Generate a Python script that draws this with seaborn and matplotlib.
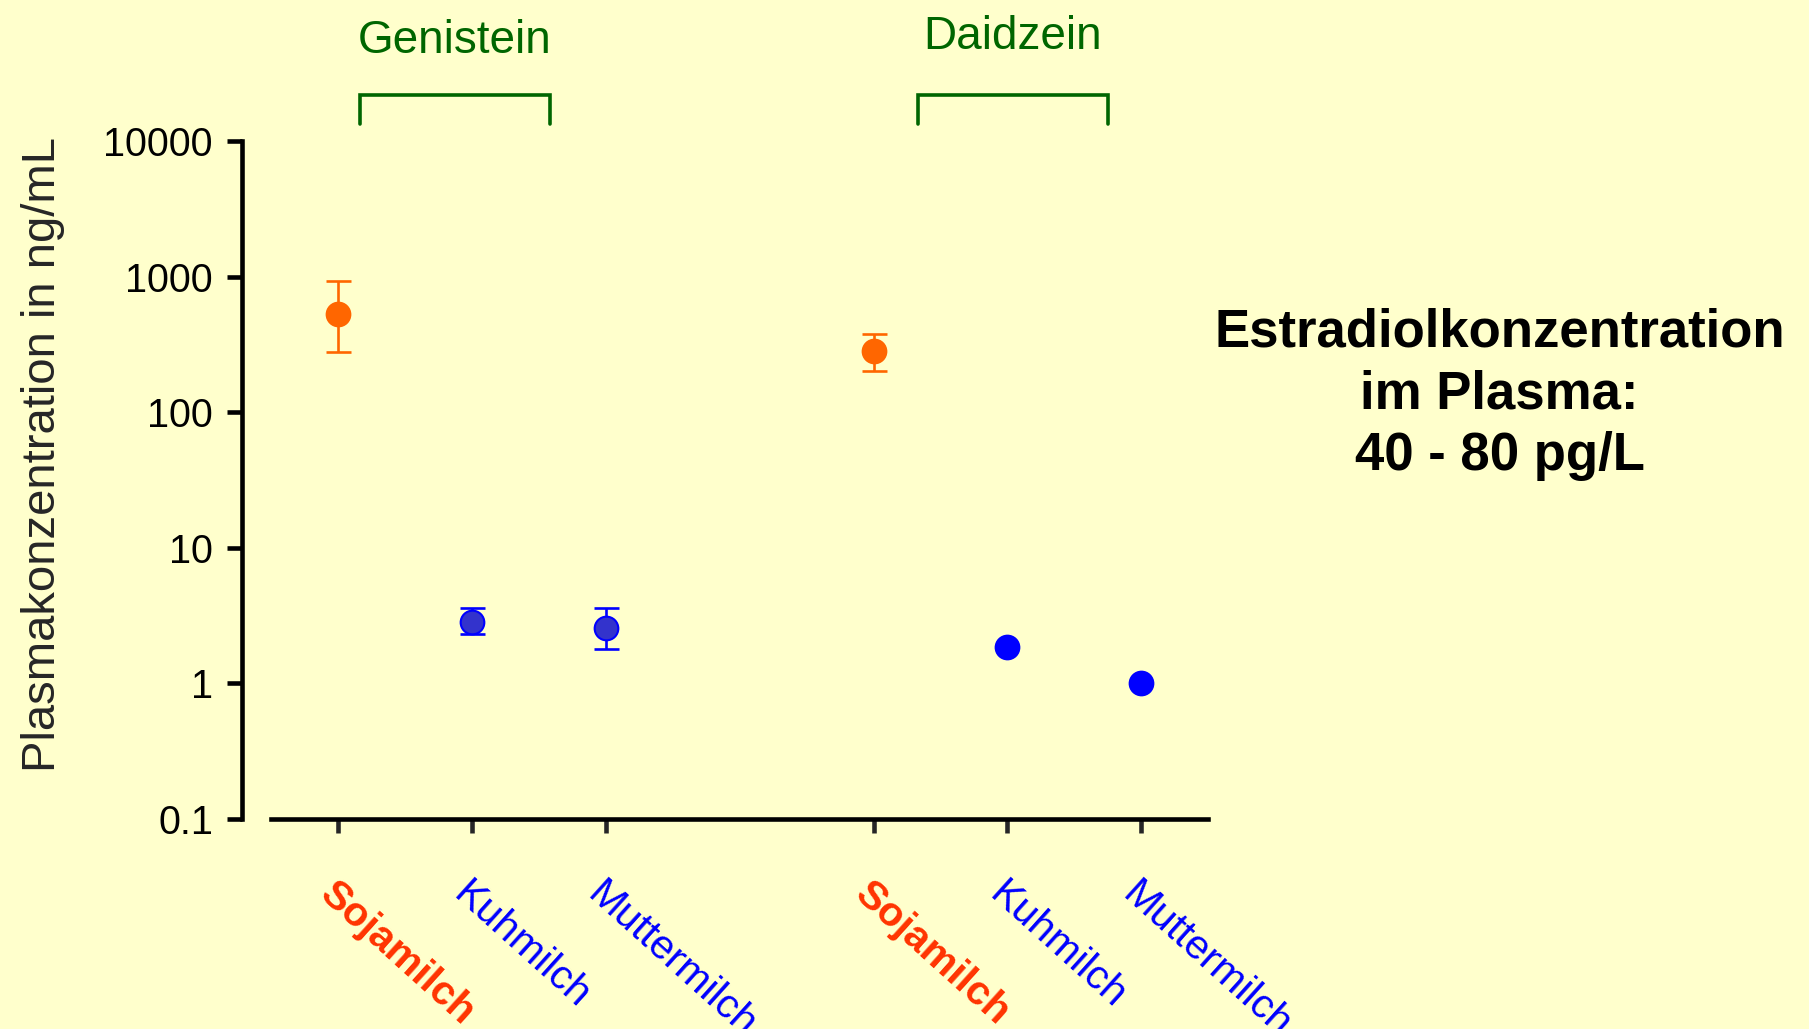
import matplotlib
matplotlib.use('Agg')
import matplotlib.pyplot as plt
import matplotlib.transforms as mtransforms
import seaborn as sns
import pandas as pd
import numpy as np

# data (ng/mL, log scale)
compounds = ['Genistein', 'Daidzein']
milks = ['Sojamilch', 'Kuhmilch', 'Muttermilch']
genistein_mean = [530, 2.85, 2.55]
genistein_low = [280, 2.3, 1.8]
genistein_high = [930, 3.6, 3.6]
daidzein_mean = [285, 1.85, 1.0]
daidzein_low = [200, np.nan, np.nan]
daidzein_high = [380, np.nan, np.nan]
y_ticks = [0.1, 1, 10, 100, 1000, 10000]
y_ticklabels = ['0.1', '1', '10', '100', '1000', '10000']
note_lines = ['Estradiolkonzentration', 'im Plasma:', '40 - 80 pg/L']

bg = '#FFFFCC'
green = '#006600'

sns.set_theme(style='ticks', rc={'figure.facecolor': bg, 'axes.facecolor': bg})
plt.rcParams['font.family'] = ['Liberation Sans', 'DejaVu Sans']

rows = []
for ci, (comp, mean, low, high) in enumerate(zip(
        compounds,
        [genistein_mean, daidzein_mean],
        [genistein_low, daidzein_low],
        [genistein_high, daidzein_high])):
    for mi, milk in enumerate(milks):
        if milk == 'Sojamilch':
            kind = 'soja'
        elif comp == 'Genistein':
            kind = 'gen'
        else:
            kind = 'dai'
        rows.append({'compound': comp, 'milk': milk, 'pos': ci * 4 + mi,
                     'mean': mean[mi], 'low': low[mi], 'high': high[mi], 'kind': kind})
df = pd.DataFrame(rows)

fill = {'soja': '#FF6600', 'gen': '#3333CC', 'dai': '#0000FF'}
edge = {'soja': '#FF6600', 'gen': '#0000FF', 'dai': '#0000FF'}
bar_col = {'soja': '#FF6600', 'gen': '#0000FF', 'dai': '#0000FF'}

fig = plt.figure(figsize=(18.09, 10.29), dpi=100)
ax = fig.add_axes([0.1338, 0.204, 0.534, 0.659])

# error bars
for _, r in df.dropna(subset=['low']).iterrows():
    ax.errorbar(r['pos'], r['mean'], yerr=[[r['mean'] - r['low']], [r['high'] - r['mean']]],
                fmt='none', ecolor=bar_col[r['kind']], elinewidth=1.9,
                capsize=9, capthick=1.9, zorder=2)

for kind, sub in df.groupby('kind'):
    sns.scatterplot(data=sub, x='pos', y='mean', ax=ax, color=fill[kind],
                    edgecolor=edge[kind], linewidth=1.5, s=290, zorder=3, legend=False)

ax.set_yscale('log')
ax.set_ylim(0.1, 10000)
ax.set_xlim(-0.72, 6.5)
ax.set_yticks(y_ticks)
ax.set_yticklabels(y_ticklabels)
ax.yaxis.set_minor_locator(matplotlib.ticker.NullLocator())

ax.set_xticks(df['pos'])
ax.set_xticklabels(df['milk'])
for lab, milk in zip(ax.get_xticklabels(), df['milk']):
    lab.set_rotation(-42)
    lab.set_rotation_mode('anchor')
    lab.set_ha('left')
    lab.set_va('top')
    lab.set_fontsize(29.5)
    if milk == 'Sojamilch':
        lab.set_color('#FF3300')
        lab.set_fontweight('bold')
    else:
        lab.set_color('#0000FF')

sns.despine(ax=ax)
for s in ['left', 'bottom']:
    ax.spines[s].set_linewidth(3.3)
    ax.spines[s].set_color('black')
ax.spines['bottom'].set_bounds(-0.5, 6.5)

ax.tick_params(axis='y', length=11, width=3.3, labelsize=28.5, pad=10, colors='black')
ax.tick_params(axis='x', length=10, width=3.3, pad=30)

ax.set_xlabel('')
ax.set_ylabel('Plasmakonzentration in ng/mL', fontsize=34)
ax.yaxis.set_label_coords(-0.183, 0.537)

# brackets above the groups
trans = mtransforms.blended_transform_factory(ax.transData, ax.transAxes)
for comp, x0, x1, ty in [('Genistein', 0.16, 1.58, 1.129), ('Daidzein', 4.33, 5.75, 1.136)]:
    ax.plot([x0, x0, x1, x1], [1.0255, 1.068, 1.068, 1.0255], color=green, lw=2.6,
            transform=trans, clip_on=False, solid_capstyle='round', solid_joinstyle='miter')
    ax.text((x0 + x1) / 2, ty, comp, color=green, fontsize=33, ha='center', va='baseline',
            transform=trans)

fig.text(0.829, 0.617, '\n'.join(note_lines), fontsize=38, fontweight='bold',
         ha='center', va='center', linespacing=1.3, color='black')

fig.savefig('out.png', dpi=100, facecolor=bg)
